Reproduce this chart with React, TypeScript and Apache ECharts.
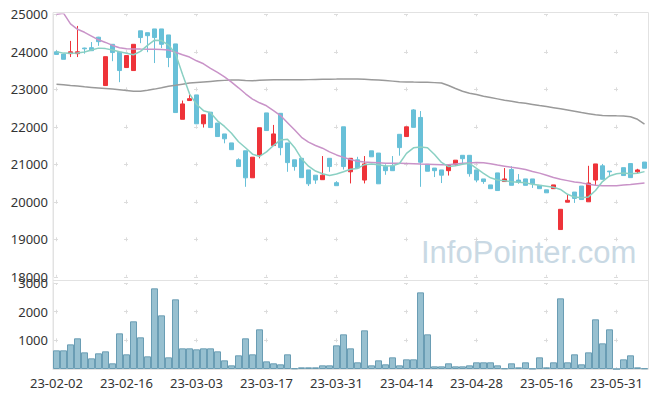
import React, { useEffect, useRef } from "react";
import * as echarts from "echarts";

const dates = [
  "23-02-02","23-02-03","23-02-06","23-02-07","23-02-08","23-02-09","23-02-10","23-02-13","23-02-14","23-02-15",
  "23-02-16","23-02-17","23-02-20","23-02-21","23-02-22","23-02-23","23-02-24","23-02-27","23-02-28","23-03-02",
  "23-03-03","23-03-06","23-03-07","23-03-08","23-03-09","23-03-10","23-03-13","23-03-14","23-03-15","23-03-16",
  "23-03-17","23-03-20","23-03-21","23-03-22","23-03-23","23-03-24","23-03-27","23-03-28","23-03-29","23-03-30",
  "23-03-31","23-04-03","23-04-04","23-04-05","23-04-06","23-04-07","23-04-10","23-04-11","23-04-12","23-04-13",
  "23-04-14","23-04-17","23-04-18","23-04-19","23-04-20","23-04-21","23-04-24","23-04-25","23-04-26","23-04-27",
  "23-04-28","23-05-02","23-05-03","23-05-04","23-05-08","23-05-09","23-05-10","23-05-11","23-05-12","23-05-15",
  "23-05-16","23-05-17","23-05-18","23-05-19","23-05-22","23-05-23","23-05-24","23-05-25","23-05-26","23-05-30",
  "23-05-31","23-06-01","23-06-02","23-06-05","23-06-07"
];

const openPrices = [
  24000,23940,23950,23950,24100,24110,24390,23100,24200,23990,
  23580,23500,24560,24510,24610,24610,24450,24210,22200,22700,
  22850,22080,22390,22100,21810,21570,21120,21360,20640,21250,
  22370,21500,22360,21570,21120,21160,20850,20710,20590,21160,
  20510,22000,20800,21120,20580,21360,21300,20940,20960,21800,
  21740,22450,22250,21000,20900,20850,20830,20990,21240,21240,
  20850,20610,20450,20770,20540,20860,20580,20610,20610,20440,
  20320,20350,19260,19990,20260,20420,20000,20580,20960,20820,
  null,20910,21020,20800,21060
];
const closePrices = [
  23930,23800,24000,24000,24080,24030,24270,23870,23980,23500,
  23900,24200,24380,24430,24380,24200,23850,22380,22610,22750,
  22080,22320,21980,21740,21680,21390,20940,20640,21190,21975,
  21900,21810,21445,21045,20940,20645,20480,20580,20710,20940,
  20430,20940,21160,20900,21010,21200,20480,20830,20830,21445,
  22000,21985,21055,20815,20830,20710,20990,21110,21150,20750,
  20580,20540,20350,20300,20610,20440,20520,20440,20480,20350,
  20240,20450,19800,20040,20090,20060,20500,21010,20600,20800,
  null,20700,20645,20850,20895
];
const lowPrices = [
  23920,23800,23860,23860,23950,24020,24160,23100,23750,23190,
  23580,23500,24230,23990,23700,24100,23590,22380,22200,22700,
  22080,21980,21980,21740,21560,21390,20940,20400,20640,21160,
  21900,21500,21240,20800,20830,20645,20420,20480,20590,20800,
  20430,20860,20490,20900,20490,21200,20480,20720,20830,21230,
  21740,21985,20400,20815,20660,20500,20700,20960,21010,20670,
  20520,20480,20350,20300,20540,20440,20480,20440,20370,20350,
  20240,20350,19260,19990,19970,20060,20000,20450,20600,20660,
  null,20700,20645,20750,20895
];
const highPrices = [
  24040,23950,24290,24690,24110,24260,24400,23870,24200,24000,
  23900,24200,24560,24510,24610,24610,24450,24210,22700,22850,
  22850,22320,22390,22100,21810,21570,21160,21360,21190,21975,
  22370,22050,22360,21570,21120,21160,20850,20710,21220,21160,
  20550,22000,21160,21200,21220,21360,21300,21000,21220,21800,
  22000,22470,22420,21000,20900,20850,20990,21110,21240,21240,
  20850,20610,20450,20770,20900,20950,20740,20610,20610,20440,
  20320,20450,19800,20200,20260,20420,20960,21010,21010,20820,
  null,20910,21020,20880,21060
];

const volumes = [
  651,651,860,1070,581,372,547,616,198,1244,
  512,1663,1105,442,2814,1872,407,2430,721,721,
  686,721,721,616,302,128,477,1070,512,1384,
  267,198,163,512,23,58,58,58,128,128,
  826,1209,721,233,1349,128,302,163,407,128,
  337,337,2674,1209,93,93,198,93,93,128,
  233,233,233,128,23,198,58,233,15,407,
  58,233,2465,233,512,163,581,1733,895,1384,
  0,337,477,58,23
];

const ma5 = [
  24000,23965,23960,23965,23995,24050,24098,24085,24050,24000,
  23964,23920,24010,24170,24310,24300,24180,23950,23400,22880,
  22600,22430,22375,22160,22010,21830,21600,21440,21270,21210,
  21330,21500,21650,21670,21450,21150,20950,20820,20750,20700,
  20740,20800,20870,20890,20990,21010,20990,20955,20960,21020,
  21290,21440,21460,21440,21260,21050,20940,20960,21000,21025,
  20890,20760,20640,20580,20560,20535,20520,20505,20470,20440,
  20415,20390,20330,20200,20125,20105,20130,20300,20540,20690,
  20750,20765,20745,20760,20805
];
const ma20 = [
  25000,25030,24746,24600,24520,24420,24320,24250,24170,24110,
  24080,24075,24072,24070,24065,24060,24045,23990,23920,23860,
  23760,23680,23560,23450,23330,23190,23040,22880,22740,22640,
  22560,22430,22300,22110,21920,21720,21590,21500,21430,21330,
  21250,21185,21130,21080,21060,21050,21040,21030,21028,21028,
  21022,21015,21005,21000,20995,20990,20985,21005,21025,21035,
  21045,21040,21015,20980,20950,20920,20895,20860,20810,20765,
  20710,20650,20600,20565,20530,20505,20470,20440,20430,20425,
  20430,20445,20460,20480,20500
];
const ma60 = [
  23137,23120,23100,23085,23065,23050,23035,23020,23005,22990,
  22965,22945,22950,22975,23005,23040,23080,23105,23135,23165,
  23180,23195,23210,23225,23238,23250,23245,23232,23225,23240,
  23250,23252,23252,23252,23255,23255,23258,23262,23266,23270,
  23272,23275,23278,23272,23265,23255,23245,23233,23218,23200,
  23195,23192,23190,23185,23178,23170,23100,23020,22950,22895,
  22860,22815,22780,22745,22710,22680,22650,22625,22595,22565,
  22540,22510,22480,22450,22415,22380,22350,22320,22300,22295,
  22292,22290,22270,22200,22070
];

const priceTicks = { min: 18000, max: 25000, step: 1000 };
const volumeTicks = { min: 0, max: 3000, step: 1000 };

const FONT = "'Noto Sans', 'Noto Sans CJK KR', sans-serif";
const UP = "#ee3339";
const DOWN = "#68c0d8";
const GRID_LINE = "#e2e2e2";
const CROSS = "#dcdcdc";
const LABEL = "#333";

export default function App() {
  const ref = useRef<HTMLDivElement>(null);

  useEffect(() => {
    if (!ref.current) return;
    const chart = echarts.init(ref.current, undefined, { renderer: "svg" });

    const candleData = dates.map((_, i) =>
      openPrices[i] == null
        ? "-"
        : [openPrices[i], closePrices[i], lowPrices[i], highPrices[i]]
    );

    const xSplit = (len: number, off: number) => ({
      show: true,
      interval: 9,
      alignWithLabel: true,
      lineStyle: { color: CROSS, width: 1, type: [4, len], dashOffset: off },
    });

    const plain = (v: number) => String(v);

    const option: any = {
      animation: false,
      textStyle: { fontFamily: FONT },
      grid: [
        { left: 53, top: 14.3, width: 595, height: 262.5, show: false },
        { left: 53, top: 283, width: 595, height: 86, show: false },
      ],
      xAxis: [
        {
          type: "category",
          gridIndex: 0,
          data: dates,
          boundaryGap: true,
          axisLine: { show: false },
          axisTick: { show: false },
          axisLabel: { show: false, interval: 9 },
          splitLine: xSplit(33.5, 2),
        },
        {
          type: "category",
          gridIndex: 1,
          data: dates,
          boundaryGap: true,
          axisLine: { show: true, lineStyle: { color: GRID_LINE } },
          axisTick: { show: false },
          axisLabel: {
            show: true,
            interval: 9,
            color: LABEL,
            fontSize: 13,
            fontFamily: FONT,
            margin: 7,
          },
          splitLine: xSplit(24.67, 2),
        },
      ],
      yAxis: [
        {
          type: "value",
          gridIndex: 0,
          min: priceTicks.min,
          max: priceTicks.max,
          interval: priceTicks.step,
          axisLine: { show: true, lineStyle: { color: GRID_LINE } },
          axisTick: { show: false },
          axisLabel: {
            color: LABEL,
            fontSize: 13,
            fontFamily: FONT,
            margin: 5,
            formatter: plain,
          },
          splitLine: {
            show: true,
            lineStyle: { color: CROSS, width: 1, type: [4, 66], dashOffset: 68.5 },
          },
        },
        {
          type: "value",
          gridIndex: 1,
          min: volumeTicks.min,
          max: volumeTicks.max,
          interval: volumeTicks.step,
          axisLine: { show: true, lineStyle: { color: GRID_LINE } },
          axisTick: { show: false },
          axisLabel: {
            color: LABEL,
            fontSize: 13,
            fontFamily: FONT,
            margin: 5,
            showMinLabel: false,
            formatter: plain,
          },
          splitLine: {
            show: true,
            lineStyle: { color: CROSS, width: 1, type: [4, 66], dashOffset: 68.5 },
          },
        },
      ],
      graphic: [
        {
          type: "text",
          left: 421,
          top: 237,
          silent: true,
          z: 0,
          style: {
            text: "InfoPointer.com",
            fontSize: 31,
            fontFamily: "'Liberation Sans', Arial, sans-serif",
            fill: "#c9d9e4",
          },
        },
        {
          type: "rect",
          silent: true,
          z: 1,
          shape: { x: 53, y: 12.5, width: 595.5, height: 356.5 },
          style: { fill: "transparent", stroke: GRID_LINE, lineWidth: 1 },
        },
        {
          type: "line",
          silent: true,
          z: 1,
          shape: { x1: 53, y1: 280.5, x2: 648.5, y2: 280.5 },
          style: { stroke: GRID_LINE, lineWidth: 1 },
        },
      ],
      series: [
        {
          type: "candlestick",
          xAxisIndex: 0,
          yAxisIndex: 0,
          data: candleData,
          barWidth: 5,
          silent: true,
          itemStyle: {
            color: UP,
            color0: DOWN,
            borderColor: UP,
            borderColor0: DOWN,
            borderWidth: 1,
          },
        },
        {
          type: "line",
          xAxisIndex: 0,
          yAxisIndex: 0,
          data: ma60,
          symbol: "none",
          silent: true,
          lineStyle: { color: "#9a9a9a", width: 1.5 },
        },
        {
          type: "line",
          xAxisIndex: 0,
          yAxisIndex: 0,
          data: ma20,
          symbol: "none",
          silent: true,
          lineStyle: { color: "#c993c8", width: 1.5 },
        },
        {
          type: "line",
          xAxisIndex: 0,
          yAxisIndex: 0,
          data: ma5,
          symbol: "none",
          silent: true,
          lineStyle: { color: "#8ad0c3", width: 1.5 },
        },
        {
          type: "bar",
          xAxisIndex: 1,
          yAxisIndex: 1,
          data: volumes,
          barWidth: "100%",
          silent: true,
          itemStyle: {
            color: "#97c0d0",
            borderColor: "#6a9db4",
            borderWidth: 1,
          },
        },
      ],
    };

    chart.setOption(option);
    return () => chart.dispose();
  }, []);

  return <div ref={ref} style={{ width: 657, height: 398, margin: -8 }} />;
}
